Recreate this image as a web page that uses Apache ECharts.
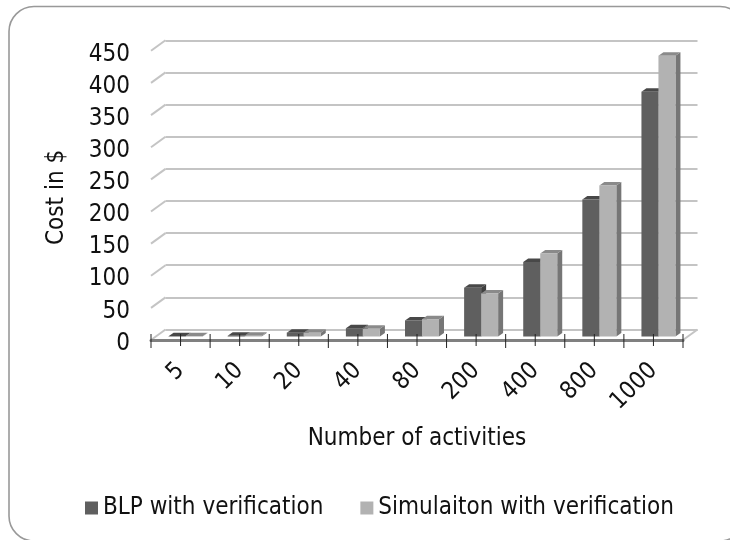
<!DOCTYPE html>
<html><head><meta charset="utf-8">
<style>html,body{margin:0;padding:0;background:#fff}#c{width:730px;height:540px}</style>
<script src="https://cdn.jsdelivr.net/npm/echarts@6/dist/echarts.min.js"></script>
</head><body><div id="c"></div>
<script>
const categories = ['5','10','20','40','80','200','400','800','1000'];
const blp = [0.5,1,6,13,25,76,116,213,381];
const sim = [0.5,1,6,12,27,67,129,235,437];
const yTicks = [0,50,100,150,200,250,300,350,400,450];
const FONT = '"DejaVu Sans Condensed","DejaVu Sans",sans-serif';
const TXT = '#111';
const FS = 24;
const DX=14.5, DY=10.5; // depth of the chart walls
const L=151, T=50.8, W=532, H=289.2;
const BW=17, BD=5, BH=3.5, SHIFT=5;

const chart = echarts.init(document.getElementById('c'), null, {renderer:'canvas'});

function bar(idx, offset, front, top, side){
  return function(params, api){
    const i = api.value(0), v = api.value(1);
    const p = api.coord([i, v]), b = api.coord([i, 0]);
    const x0 = p[0]+SHIFT+offset, x1 = x0+BW, yt = p[1]-BH, yb = b[1]-BH;
    return {type:'group', children:[
      {type:'polygon', shape:{points:[[x1,yt],[x1+BD,yt-BH],[x1+BD,yb-BH],[x1,yb]]}, style:{fill:side}},
      {type:'polygon', shape:{points:[[x0,yt],[x0+BD,yt-BH],[x1+BD,yt-BH],[x1,yt]]}, style:{fill:top}},
      {type:'rect', shape:{x:x0,y:yt,width:BW,height:yb-yt}, style:{fill:front}}
    ]};
  };
}
const option = {
  animation:false,
  backgroundColor:'#fff',
  graphic:[{type:'rect', z:-10, shape:{x:9,y:6.5,width:736,height:534.5,r:25},
            style:{fill:'#fff',stroke:'#999999',lineWidth:1.6}}],
  grid:[
    {left:L, top:T, width:W, height:H, containLabel:false},
    {left:L+DX, top:T-DY, width:W, height:H, containLabel:false}
  ],
  xAxis:[
    {type:'category', gridIndex:0, data:categories, name:'Number of activities', nameLocation:'middle', nameGap:87,
     nameTextStyle:{fontFamily:FONT,fontSize:FS,color:TXT},
     axisLine:{show:true,lineStyle:{color:'#808080',width:3}}, axisTick:{show:false},
     axisLabel:{rotate:45,fontFamily:FONT,fontSize:FS,color:TXT,margin:27,interval:0}, z:5},
    {type:'category', gridIndex:1, data:categories, show:false}
  ],
  yAxis:[
    {type:'value', gridIndex:0, min:0, max:450, interval:50, name:'Cost in $', nameLocation:'middle', nameGap:82,
     nameTextStyle:{fontFamily:FONT,fontSize:FS,color:TXT,padding:[0,4,0,0]},
     axisLine:{show:false}, axisTick:{show:false}, splitLine:{show:false},
     axisLabel:{margin:21,formatter:'{v|{value}}',
       rich:{v:{fontFamily:FONT,fontSize:FS,color:TXT,padding:[7,0,0,0]}}}},
    {type:'value', gridIndex:1, min:0, max:450, interval:50,
     axisLine:{show:false}, axisTick:{show:false}, axisLabel:{show:false},
     splitLine:{show:true,lineStyle:{color:'#c4c4c4',width:2}}}
  ],
  legend:{
    left:80, top:491, itemWidth:13, itemHeight:13, itemGap:37, icon:'rect',
    textStyle:{fontFamily:FONT,fontSize:FS,color:TXT},
    data:['BLP with verification','Simulaiton with verification']
  },
  series:[
    {type:'custom', name:'walls', xAxisIndex:0, yAxisIndex:0, silent:true, z:1, encode:{x:0,y:1},
     data:yTicks.map(t=>[0,t]),
     renderItem(params, api){
       const v = api.value(1);
       const p = api.coord([0,v]);
       const x = L;
       const kids = [{type:'line', shape:{x1:x,y1:p[1],x2:x+DX,y2:p[1]-DY}, style:{stroke:'#c4c4c4',lineWidth:2}}];
       if (v===0) kids.push({type:'line', shape:{x1:x+W,y1:p[1],x2:x+W+DX,y2:p[1]-DY}, style:{stroke:'#c4c4c4',lineWidth:2}});
       return {type:'group',children:kids};
     }},
    {type:'custom', name:'BLP with verification', xAxisIndex:0, yAxisIndex:0, z:3, encode:{x:0,y:1},
     itemStyle:{color:'#5f5f5f'},
     data:blp.map((v,i)=>[i,v]),
     renderItem:bar(0,-BW,'#5f5f5f','#484848','#3f3f3f')},
    {type:'custom', name:'Simulaiton with verification', xAxisIndex:0, yAxisIndex:0, z:4, encode:{x:0,y:1},
     itemStyle:{color:'#b2b2b2'},
     data:sim.map((v,i)=>[i,v]),
     renderItem:bar(1,0,'#b2b2b2','#8a8a8a','#767676')},
    {type:'custom', name:'ticks', xAxisIndex:0, yAxisIndex:0, silent:true, z:6, encode:{x:0,y:1},
     data:categories.map((c,i)=>[i,0]),
     renderItem(params, api){
       const i = api.value(0), p = api.coord([i,0]);
       const step = api.size([1,0])[0];
       const tick = (x,a,b)=>({type:'line', shape:{x1:x,y1:p[1]+a,x2:x,y2:p[1]+b}, style:{stroke:'#222',lineWidth:1}});
       const kids = [tick(p[0],-6,6), tick(p[0]+step/2,-6,8)];
       if (i===0) kids.push(tick(p[0]-step/2,-6,8));
       return {type:'group',children:kids};
     }}
  ]
};
chart.setOption(option);
</script></body></html>
